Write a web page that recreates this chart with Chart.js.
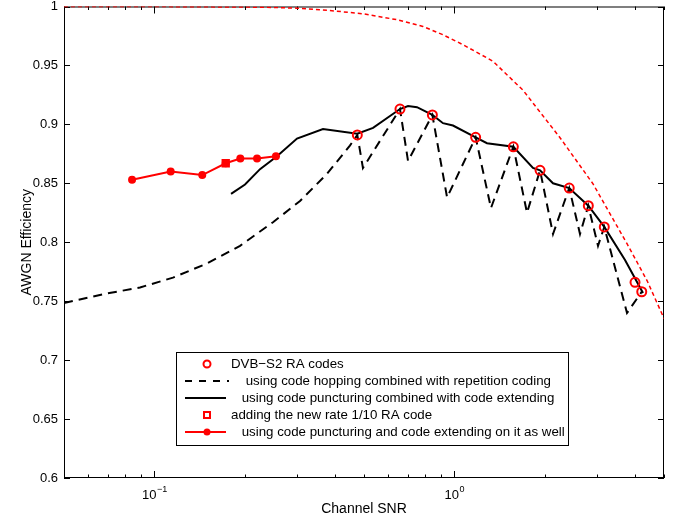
<!DOCTYPE html>
<html>
<head>
<meta charset="utf-8">
<script src="https://cdn.jsdelivr.net/npm/chart.js@4"></script>
<style>
  html, body { margin: 0; padding: 0; background: #fff; }
  #wrap { width: 678px; height: 523px; }
</style>
</head>
<body>
<div id="wrap"><canvas id="chart" width="678" height="523"></canvas></div>
<script>
// DVB-S2 RA codes (red circles)
const dvbSnr = [0.475, 0.659, 0.845, 1.178, 1.573, 1.931, 2.416, 2.797, 3.162, 4.003, 4.215];
const dvbEff = [0.891, 0.913, 0.908, 0.889, 0.881, 0.861, 0.846, 0.831, 0.813, 0.766, 0.758];

// code hopping + repetition coding (black dashed)
const hopSnr = [0.05, 0.0696, 0.0896, 0.1154, 0.1499, 0.1931, 0.2487, 0.306, 0.3763, 0.4487, 0.475, 0.496,
                0.659, 0.701, 0.845, 0.946, 1.178, 1.325, 1.573, 1.747, 1.931, 2.133, 2.416, 2.624, 2.797, 3.013,
                3.162, 3.764, 4.215];
const hopEff = [0.7485, 0.7566, 0.7616, 0.770, 0.782, 0.797, 0.817, 0.835, 0.858, 0.882, 0.891, 0.863,
                0.913, 0.869, 0.908, 0.838, 0.889, 0.829, 0.881, 0.825, 0.861, 0.807, 0.846, 0.807, 0.831, 0.797,
                0.813, 0.740, 0.758];

// code puncturing + code extending (black solid)
const punctSnr = [0.1802, 0.2006, 0.2251, 0.2564, 0.299, 0.365, 0.475, 0.536, 0.659, 0.701, 0.751, 0.845,
                  0.917, 0.990, 1.178, 1.285, 1.573, 1.829, 1.931, 2.133, 2.416, 2.797, 3.162, 3.707, 4.256];
const punctEff = [0.841, 0.849, 0.862, 0.873, 0.888, 0.896, 0.892, 0.897, 0.913, 0.9155, 0.9146, 0.908,
                  0.901, 0.899, 0.889, 0.884, 0.881, 0.863, 0.861, 0.850, 0.846, 0.831, 0.813, 0.785, 0.757];

// new rate 1/10 RA code (red square)
const newSnr = [0.173];
const newEff = [0.867];

// puncturing and extending on the new code (red line + dots)
const extSnr = [0.0843, 0.1134, 0.1445, 0.173, 0.1935, 0.220, 0.2544];
const extEff = [0.853, 0.860, 0.857, 0.867, 0.871, 0.871, 0.873];

// red dashed limit curve
const limSnr = [0.05, 0.0966, 0.1788, 0.2303, 0.299, 0.385, 0.496, 0.644, 0.786, 0.917, 1.069, 1.346,
                1.694, 2.251, 2.900, 3.764, 4.389, 5.0];
const limEff = [1.0, 1.0, 0.9996, 0.9994, 0.9986, 0.9966, 0.9938, 0.9888, 0.9831, 0.976, 0.9676, 0.9535,
                0.929, 0.8887, 0.8495, 0.7988, 0.7675, 0.7354];

// axis ticks
const xTicks = [0.05, 0.06, 0.07, 0.08, 0.09, 0.1, 0.2, 0.3, 0.4, 0.5, 0.6, 0.7, 0.8, 0.9, 1, 2, 3, 4, 5];
const xMajor = [0.1, 1];
const xMajorExp = ['\u22121', '0'];
const yTicks = [0.6, 0.65, 0.7, 0.75, 0.8, 0.85, 0.9, 0.95, 1];

const legendLabels = [
    'DVB\u2212S2 RA codes',
    ' using code hopping combined with repetition coding',
    ' using code puncturing combined with code extending',
    'adding the new rate 1/10 RA code',
    ' using code puncturing and code extending on it as well'
];

const FONT = '"Liberation Sans", Arial, Helvetica, sans-serif';
const pts = (xs, ys) => xs.map((v, i) => ({ x: v, y: ys[i] }));

// no extra room for the tick labels, the plot box is fixed
function noPad(s) {
    s.paddingTop = 0; s.paddingBottom = 0; s.paddingLeft = 0; s.paddingRight = 0;
}

// box, inward ticks, axis titles, x labels with exponents
const frame = {
    id: 'frame',
    beforeDatasetsDraw(chart) {
        const { ctx, chartArea: a, scales: { x, y } } = chart;
        ctx.save();
        ctx.strokeStyle = '#000';
        ctx.lineWidth = 1;
        ctx.strokeRect(a.left + 0.5, a.top + 0.5, a.right - a.left - 1, a.bottom - a.top - 1);
        ctx.beginPath();
        xTicks.forEach(v => {
            const px = Math.round(x.getPixelForValue(v)) + 0.5;
            const len = xMajor.includes(v) ? 7 : 3.5;
            ctx.moveTo(px, a.bottom); ctx.lineTo(px, a.bottom - len);
            ctx.moveTo(px, a.top); ctx.lineTo(px, a.top + len);
        });
        yTicks.forEach(v => {
            const py = Math.round(y.getPixelForValue(v)) + 0.5;
            ctx.moveTo(a.left, py); ctx.lineTo(a.left + 6, py);
            ctx.moveTo(a.right, py); ctx.lineTo(a.right - 6, py);
        });
        ctx.stroke();

        ctx.fillStyle = '#000';
        ctx.textBaseline = 'alphabetic';
        xMajor.forEach((v, i) => {
            const px = x.getPixelForValue(v);
            ctx.font = '13px ' + FONT;
            const w1 = ctx.measureText('10').width;
            ctx.font = '9px ' + FONT;
            const w2 = ctx.measureText(xMajorExp[i]).width;
            const left = px - (w1 + w2) / 2;
            ctx.font = '13px ' + FONT;
            ctx.textAlign = 'left';
            ctx.fillText('10', left, 499);
            ctx.font = '9px ' + FONT;
            ctx.fillText(xMajorExp[i], left + w1 + 0.5, 492);
        });

        ctx.font = '14px ' + FONT;
        ctx.textAlign = 'center';
        ctx.textBaseline = 'middle';
        ctx.fillText('Channel SNR', (a.left + a.right) / 2, 509);
        ctx.translate(27, (a.top + a.bottom) / 2);
        ctx.rotate(-Math.PI / 2);
        ctx.fillText('AWGN Efficiency', 0, 0);
        ctx.restore();
    },
    afterDraw(chart) {
        const { ctx } = chart;
        const bx = 176, by = 352, bw = 392, bh = 93;
        const rows = [364, 381, 398, 415, 432];
        const tx = [231, 242, 238, 231, 238];
        ctx.save();
        ctx.fillStyle = '#fff';
        ctx.fillRect(bx, by, bw, bh);
        ctx.strokeStyle = '#000';
        ctx.lineWidth = 1;
        ctx.strokeRect(bx + 0.5, by + 0.5, bw, bh);

        const cx = 207;
        // circle
        ctx.strokeStyle = '#ff0000';
        ctx.lineWidth = 2;
        ctx.beginPath(); ctx.arc(cx, rows[0], 3.5, 0, Math.PI * 2); ctx.stroke();
        // dashed black
        ctx.strokeStyle = '#000';
        ctx.setLineDash([7, 7]);
        ctx.beginPath(); ctx.moveTo(185, rows[1]); ctx.lineTo(229, rows[1]); ctx.stroke();
        ctx.setLineDash([]);
        // solid black
        ctx.beginPath(); ctx.moveTo(185, rows[2]); ctx.lineTo(226, rows[2]); ctx.stroke();
        // square
        ctx.strokeStyle = '#ff0000';
        ctx.strokeRect(cx - 3, rows[3] - 3, 6, 6);
        // red line + dot
        ctx.beginPath(); ctx.moveTo(185, rows[4]); ctx.lineTo(226, rows[4]); ctx.stroke();
        ctx.fillStyle = '#ff0000';
        ctx.beginPath(); ctx.arc(cx, rows[4], 3.5, 0, Math.PI * 2); ctx.fill();

        ctx.fillStyle = '#000';
        ctx.font = '13.3px ' + FONT;
        ctx.textAlign = 'left';
        ctx.textBaseline = 'middle';
        legendLabels.forEach((t, i) => ctx.fillText(t, tx[i], rows[i]));
        ctx.restore();
    }
};

new Chart(document.getElementById('chart'), {
    type: 'scatter',
    data: {
        datasets: [
            {
                label: legendLabels[0],
                data: pts(dvbSnr, dvbEff),
                showLine: false,
                pointStyle: 'circle',
                pointRadius: 4.5,
                pointBorderWidth: 2,
                pointBorderColor: '#ff0000',
                pointBackgroundColor: 'rgba(0,0,0,0)'
            },
            {
                label: legendLabels[3],
                data: pts(newSnr, newEff),
                showLine: false,
                pointStyle: 'rect',
                pointRadius: 4.5,
                pointBorderWidth: 2,
                pointBorderColor: '#ff0000',
                pointBackgroundColor: '#ff0000'
            },
            {
                label: legendLabels[4],
                data: pts(extSnr, extEff),
                showLine: true,
                borderColor: '#ff0000',
                borderWidth: 2,
                pointRadius: 4,
                pointBorderWidth: 0,
                pointBackgroundColor: '#ff0000'
            },
            {
                label: legendLabels[2],
                data: pts(punctSnr, punctEff),
                showLine: true,
                borderColor: '#000',
                borderWidth: 2,
                pointRadius: 0
            },
            {
                label: legendLabels[1],
                data: pts(hopSnr, hopEff),
                showLine: true,
                borderColor: '#000',
                borderWidth: 2,
                borderDash: [9, 6],
                pointRadius: 0
            },
            {
                label: 'limit',
                data: pts(limSnr, limEff),
                showLine: true,
                borderColor: '#ff0000',
                borderWidth: 1.5,
                borderDash: [4, 3],
                pointRadius: 0
            }
        ]
    },
    options: {
        responsive: false,
        animation: false,
        devicePixelRatio: 1,
        layout: { padding: { top: 5, right: 14, left: 0, bottom: 0 } },
        plugins: {
            legend: { display: false },
            tooltip: { enabled: false }
        },
        elements: { line: { tension: 0 } },
        scales: {
            x: {
                type: 'logarithmic',
                min: 0.05,
                max: 5,
                afterBuildTicks: s => { s.ticks = xTicks.map(v => ({ value: v })); },
                afterFit: s => { s.height = 45; noPad(s); },
                ticks: { display: false },
                grid: { display: false, drawTicks: false },
                border: { display: false }
            },
            y: {
                type: 'linear',
                min: 0.6,
                max: 1,
                afterBuildTicks: s => { s.ticks = yTicks.map(v => ({ value: v })); },
                afterFit: s => { s.width = 64; noPad(s); },
                ticks: {
                    color: '#000',
                    padding: 6,
                    font: { family: FONT, size: 13 },
                    callback: v => String(Math.round(v * 100) / 100)
                },
                grid: { display: false, drawTicks: false },
                border: { display: false }
            }
        }
    },
    plugins: [frame]
});
</script>
</body>
</html>
